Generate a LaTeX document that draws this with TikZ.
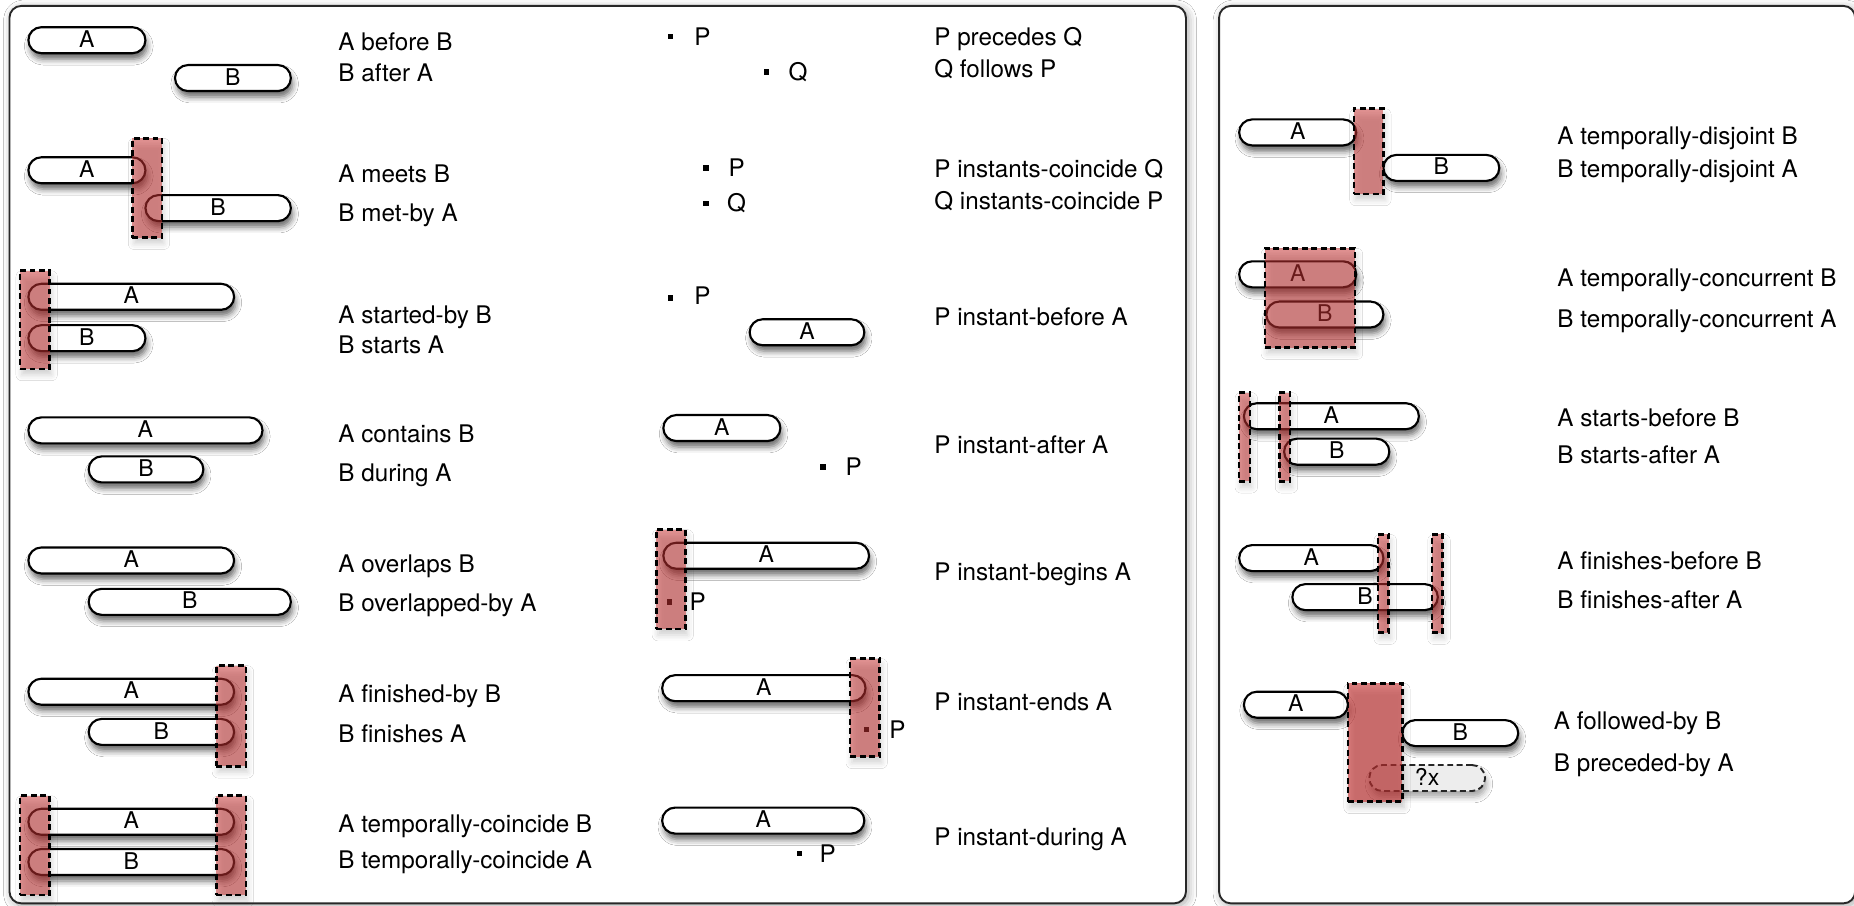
\documentclass[tikz,border=0pt]{standalone}
\usepackage{fontspec}
\setmainfont{TeX Gyre Heros}
\usetikzlibrary{shadows.blur}

\definecolor{boxred}{RGB}{200,50,50}
\definecolor{frame}{RGB}{40,40,40}

\tikzset{
  panel/.style={draw=frame, line width=1.6pt, fill=white, rounded corners=10pt,
    inner sep=0pt,
    blur shadow={shadow xshift=2pt, shadow yshift=-2pt, shadow blur radius=7pt, shadow opacity=35}},
  pill/.style={draw=black, line width=1.8pt, fill=white, rounded corners=11pt,
    minimum height=22pt, inner sep=0pt, text height=14pt, text depth=2pt,
    font=\fontsize{19.5}{19.5}\selectfont,
    blur shadow={shadow xshift=1.5pt, shadow yshift=-5pt, shadow blur radius=5pt, shadow opacity=60}},
  ghostpill/.style={draw=black!85, dash pattern=on 5pt off 3pt, line width=1.6pt,
    fill=black!7, rounded corners=11pt, minimum height=22pt, inner sep=0pt,
    text height=14pt, text depth=2pt, font=\fontsize{19.5}{19.5}\selectfont,
    blur shadow={shadow xshift=1.5pt, shadow yshift=-5pt, shadow blur radius=5pt, shadow opacity=35}},
  hilite/.style={draw=black, line width=2.2pt, dash pattern=on 5pt off 3pt,
    fill=boxred, fill opacity=0.52, draw opacity=1, inner sep=0pt,
    blur shadow={shadow xshift=1.5pt, shadow yshift=-5pt, shadow blur radius=5pt, shadow opacity=35}},
  strong/.style={hilite, fill opacity=0.62},
  instant/.style={fill=black, inner sep=0pt, minimum size=4.5pt, draw=none},
  ptname/.style={inner sep=0pt, font=\fontsize{20.5}{24}\selectfont},
  rel/.style={anchor=base west, inner sep=0pt, font=\fontsize{20.5}{24}\selectfont},
}

\begin{document}
\begin{tikzpicture}[x=1pt,y=-1pt]
\useasboundingbox (0,0) rectangle (1568,766);
\fill[white] (0,0) rectangle (1568,766);
\clip (0,0) rectangle (1568,766);

% the two framed panels
\node[panel, minimum width=995pt, minimum height=759pt] (leftpanel) at (505.5,384.5) {};
\node[panel, minimum width=538pt, minimum height=759pt] (rightpanel) at (1300,384.5) {};

% ---------- interval-interval relations ----------
% before / after
\node[pill, minimum width=99pt] (a1) at (73.5,34) {A};
\node[pill, minimum width=98pt] (b1) at (197,66) {B};
\node[rel] (t1a) at (286,42.3) {A before B};
\node[rel] (t1b) at (286,69.3) {B after A};

% meets / met-by
\node[pill, minimum width=99pt] (a2) at (73.5,144) {A};
\node[pill, minimum width=123pt] (b2) at (184.5,176) {B};
\node[hilite, minimum width=25pt, minimum height=84pt] (h2) at (124.5,159) {};
\node[rel] (t2a) at (286,154.3) {A meets B};
\node[rel] (t2b) at (286,187.3) {B met-by A};

% started-by / starts
\node[pill, minimum width=174pt] (a3) at (111,251) {A};
\node[pill, minimum width=99pt] (b3) at (73.5,286) {B};
\node[hilite, minimum width=25pt, minimum height=83pt] (h3) at (29.5,270.5) {};
\node[rel] (t3a) at (286,273.3) {A started-by B};
\node[rel] (t3b) at (286,299.3) {B starts A};

% contains / during
\node[pill, minimum width=198pt] (a4) at (123,364) {A};
\node[pill, minimum width=97pt] (b4) at (123.5,397) {B};
\node[rel] (t4a) at (286,374.3) {A contains B};
\node[rel] (t4b) at (286,407.3) {B during A};

% overlaps / overlapped-by
\node[pill, minimum width=174pt] (a5) at (111,474) {A};
\node[pill, minimum width=171pt] (b5) at (160.5,509) {B};
\node[rel] (t5a) at (286,484.3) {A overlaps B};
\node[rel] (t5b) at (286,517.3) {B overlapped-by A};

% finished-by / finishes
\node[pill, minimum width=174pt] (a6) at (111,585) {A};
\node[pill, minimum width=123pt] (b6) at (136.5,619) {B};
\node[hilite, minimum width=25pt, minimum height=85pt] (h6) at (195.5,605.5) {};
\node[rel] (t6a) at (286,594.3) {A finished-by B};
\node[rel] (t6b) at (286,628.3) {B finishes A};

% temporally-coincide
\node[pill, minimum width=174pt] (a7) at (111,695) {A};
\node[pill, minimum width=174pt] (b7) at (111,729) {B};
\node[hilite, minimum width=25pt, minimum height=84pt] (h7l) at (29.5,715) {};
\node[hilite, minimum width=25pt, minimum height=84pt] (h7r) at (195.5,715) {};
\node[rel] (t7a) at (286,704.3) {A temporally-coincide B};
\node[rel] (t7b) at (286,734.3) {B temporally-coincide A};

% ---------- instant relations ----------
% precedes / follows
\node[instant] (p1) at (567,31) {};
\node[ptname] (p1n) at (594,31) {P};
\node[instant] (q1) at (648,61) {};
\node[ptname] (q1n) at (675,61) {Q};
\node[rel] (u1a) at (790,38.3) {P precedes Q};
\node[rel] (u1b) at (790,65.3) {Q follows P};

% instants-coincide
\node[instant] (p2) at (597,142) {};
\node[ptname] (p2n) at (623,142) {P};
\node[instant] (q2) at (597,172) {};
\node[ptname] (q2n) at (623,172) {Q};
\node[rel] (u2a) at (790,150.3) {P instants-coincide Q};
\node[rel] (u2b) at (790,177.3) {Q instants-coincide P};

% instant-before
\node[instant] (p3) at (567,252) {};
\node[ptname] (p3n) at (594,250) {P};
\node[pill, minimum width=97pt] (a8) at (682.5,281) {A};
\node[rel] (u3) at (790,275.3) {P instant-before A};

% instant-after
\node[pill, minimum width=99pt] (a9) at (610.5,362) {A};
\node[instant] (p4) at (696,395) {};
\node[ptname] (p4n) at (722,395) {P};
\node[rel] (u4) at (790,383.3) {P instant-after A};

% instant-begins
\node[pill, minimum width=174pt] (a10) at (648,470) {A};
\node[instant] (p5) at (566,509) {};
\node[hilite, minimum width=25pt, minimum height=84pt] (h10) at (567.5,490) {};
\node[ptname] (p5n) at (590,509) {P};
\node[rel] (u5) at (790,491.3) {P instant-begins A};

% instant-ends
\node[pill, minimum width=172pt] (a11) at (646,582) {A};
\node[instant] (p6) at (733,617) {};
\node[hilite, minimum width=25pt, minimum height=83pt] (h11) at (731.5,598.5) {};
\node[ptname] (p6n) at (759,617) {P};
\node[rel] (u6) at (790,601.3) {P instant-ends A};

% instant-during
\node[pill, minimum width=171pt] (a12) at (645.5,694) {A};
\node[instant] (p7) at (676,722) {};
\node[ptname] (p7n) at (700,722) {P};
\node[rel] (u7) at (790,715.3) {P instant-during A};

% ---------- derived relations ----------
% temporally-disjoint
\node[pill, minimum width=99pt] (a13) at (1097.5,112) {A};
\node[pill, minimum width=98pt] (b13) at (1219,142) {B};
\node[hilite, minimum width=25pt, minimum height=72pt] (h13) at (1157.5,128) {};
\node[rel] (v1a) at (1317,122.3) {A temporally-disjoint B};
\node[rel] (v1b) at (1317,150.3) {B temporally-disjoint A};

% temporally-concurrent
\node[pill, minimum width=99pt] (a14) at (1097.5,232) {A};
\node[pill, minimum width=99pt] (b14) at (1120.5,266) {B};
\node[hilite, minimum width=76pt, minimum height=84pt] (h14) at (1108,252) {};
\node[rel] (v2a) at (1317,242.3) {A temporally-concurrent B};
\node[rel] (v2b) at (1317,277.3) {B temporally-concurrent A};

% starts-before / starts-after
\node[pill, minimum width=148pt] (a15) at (1126,352) {A};
\node[pill, minimum width=89pt] (b15) at (1130.5,382) {B};
\node[hilite, minimum width=9pt, minimum height=75pt] (h15l) at (1052.5,369.5) {};
\node[hilite, minimum width=9pt, minimum height=75pt] (h15r) at (1086.5,369.5) {};
\node[rel] (v3a) at (1317,360.3) {A starts-before B};
\node[rel] (v3b) at (1317,392.3) {B starts-after A};

% finishes-before / finishes-after
\node[pill, minimum width=122pt] (a16) at (1109,472) {A};
\node[pill, minimum width=123pt] (b16) at (1154.5,505) {B};
\node[hilite, minimum width=9pt, minimum height=83pt] (h16l) at (1170,493.5) {};
\node[hilite, minimum width=9pt, minimum height=83pt] (h16r) at (1215.5,493.5) {};
\node[rel] (v4a) at (1317,481.3) {A finishes-before B};
\node[rel] (v4b) at (1317,514.3) {B finishes-after A};

% followed-by / preceded-by
\node[pill, minimum width=88pt] (a17) at (1096,596) {A};
\node[pill, minimum width=98pt] (b17) at (1235,620) {B};
\node[ghostpill, minimum width=98pt] (x17) at (1207,658) {?x};
\node[strong, minimum width=46pt, minimum height=100pt] (h17) at (1163,628) {};
\node[rel] (v5a) at (1314,617.3) {A followed-by B};
\node[rel] (v5b) at (1314,652.3) {B preceded-by A};
\end{tikzpicture}
\end{document}
